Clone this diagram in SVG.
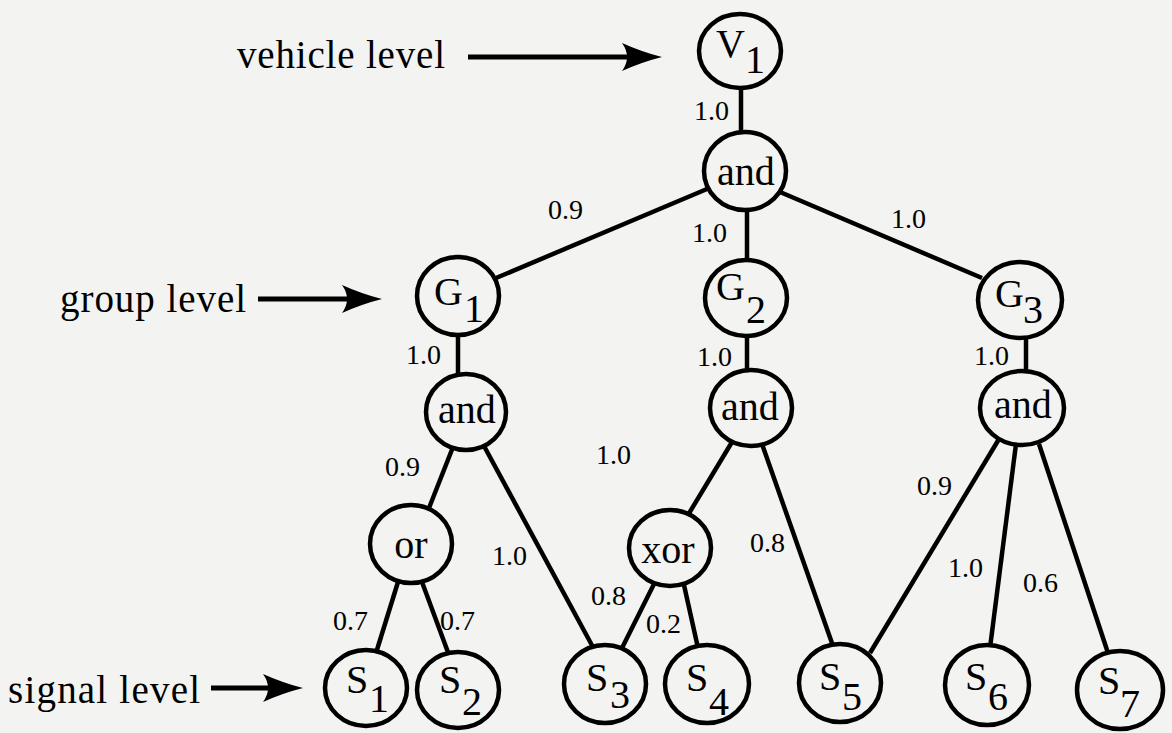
<svg xmlns="http://www.w3.org/2000/svg" width="1172" height="733" viewBox="0 0 1172 733">
<style>
.bg{fill:#f3f3f1}
.nd{fill:#f3f3f1;stroke:#000;stroke-width:4.5}
.ln{stroke:#000;stroke-width:4.5;fill:none}
.t{font-family:"Liberation Serif","Times New Roman",serif;font-size:40px;fill:#000}
.tm{font-family:"Liberation Serif","Times New Roman",serif;font-size:40px;fill:#000;text-anchor:middle}
.w{font-family:"Liberation Serif","Times New Roman",serif;font-size:28px;fill:#000}
.lv{font-family:"Liberation Serif","Times New Roman",serif;font-size:39px;fill:#000}
.ar{stroke:#000;stroke-width:5;fill:none}
</style>
<defs>
<marker id="ah" viewBox="0 0 40 28" refX="20" refY="14" markerWidth="40" markerHeight="28" markerUnits="userSpaceOnUse" orient="auto">
<path d="M0,0 Q20,9 40,14 Q20,19 0,28 Q10,14 0,0 z" fill="#000"/>
</marker>
</defs>
<rect class="bg" x="0" y="0" width="1172" height="733"/>

<g id="levels">
<text class="lv" x="237" y="68" textLength="208">vehicle level</text>
<line class="ar" x1="468" y1="57" x2="642" y2="57" marker-end="url(#ah)"/>
<text class="lv" x="60" y="312" textLength="186">group level</text>
<line class="ar" x1="258" y1="299" x2="362" y2="299" marker-end="url(#ah)"/>
<text class="lv" x="8" y="703" textLength="192">signal level</text>
<line class="ar" x1="211" y1="688" x2="283" y2="688" marker-end="url(#ah)"/>
</g>

<g id="connectors">
<line class="ln" x1="741" y1="86" x2="741" y2="134"/>
<line class="ln" x1="707" y1="189" x2="496" y2="278"/>
<line class="ln" x1="747" y1="208" x2="747" y2="262"/>
<line class="ln" x1="780" y1="192" x2="982" y2="278"/>
<line class="ln" x1="458" y1="333" x2="458" y2="376"/>
<line class="ln" x1="747" y1="334" x2="747" y2="371"/>
<line class="ln" x1="1026" y1="336" x2="1026" y2="372"/>
<line class="ln" x1="453" y1="447" x2="429" y2="508"/>
<line class="ln" x1="484" y1="446" x2="594" y2="649"/>
<line class="ln" x1="732" y1="442" x2="688" y2="515"/>
<line class="ln" x1="762" y1="444" x2="833" y2="646"/>
<line class="ln" x1="999" y1="439" x2="870" y2="653"/>
<line class="ln" x1="1016" y1="444" x2="990" y2="648"/>
<line class="ln" x1="1039" y1="444" x2="1108" y2="653"/>
<line class="ln" x1="398" y1="582" x2="376" y2="653"/>
<line class="ln" x1="422" y1="582" x2="449" y2="655"/>
<line class="ln" x1="654" y1="584" x2="621" y2="650"/>
<line class="ln" x1="684" y1="585" x2="698" y2="648"/>
</g>

<g id="weights">
<text class="w" x="694" y="120">1.0</text>
<text class="w" x="548" y="219">0.9</text>
<text class="w" x="692" y="242">1.0</text>
<text class="w" x="891" y="228">1.0</text>
<text class="w" x="406" y="364">1.0</text>
<text class="w" x="697" y="366">1.0</text>
<text class="w" x="974" y="365">1.0</text>
<text class="w" x="385" y="476">0.9</text>
<text class="w" x="596" y="464">1.0</text>
<text class="w" x="492" y="565">1.0</text>
<text class="w" x="333" y="630">0.7</text>
<text class="w" x="440" y="630">0.7</text>
<text class="w" x="591" y="605">0.8</text>
<text class="w" x="646" y="633">0.2</text>
<text class="w" x="750" y="552">0.8</text>
<text class="w" x="917" y="495">0.9</text>
<text class="w" x="948" y="577">1.0</text>
<text class="w" x="1023" y="592">0.6</text>
</g>

<g id="V1"><ellipse class="nd" cx="740" cy="51" rx="41" ry="37"/><text class="t" x="716" y="57">V</text><text class="t" x="745" y="73">1</text></g>
<g id="and0"><ellipse class="nd" cx="745" cy="171" rx="41" ry="39"/><text class="tm" x="746" y="185">and</text></g>
<g id="G1"><ellipse class="nd" cx="458" cy="296" rx="41" ry="39"/><text class="t" x="434" y="305">G</text><text class="t" x="464" y="322">1</text></g>
<g id="G2"><ellipse class="nd" cx="746" cy="298" rx="41" ry="38"/><text class="t" x="716" y="300">G</text><text class="t" x="746" y="323">2</text></g>
<g id="G3"><ellipse class="nd" cx="1020" cy="300" rx="42" ry="38"/><text class="t" x="995" y="307">G</text><text class="t" x="1023" y="323">3</text></g>
<g id="and1"><ellipse class="nd" cx="466" cy="412" rx="40" ry="38"/><text class="tm" x="467" y="423">and</text></g>
<g id="and2"><ellipse class="nd" cx="751" cy="408" rx="41" ry="38"/><text class="tm" x="750" y="420">and</text></g>
<g id="and3"><ellipse class="nd" cx="1022" cy="408" rx="42" ry="37"/><text class="tm" x="1023" y="418">and</text></g>
<g id="or"><ellipse class="nd" cx="411" cy="544" rx="41" ry="39"/><text class="tm" x="411" y="558">or</text></g>
<g id="xor"><ellipse class="nd" cx="670" cy="548" rx="41" ry="38"/><text class="tm" x="668" y="563">xor</text></g>
<g id="S1"><ellipse class="nd" cx="366" cy="688" rx="41" ry="38"/><text class="t" x="346" y="693">S</text><text class="t" x="369" y="712">1</text></g>
<g id="S2"><ellipse class="nd" cx="458" cy="690" rx="41" ry="38"/><text class="t" x="439" y="693">S</text><text class="t" x="462" y="715">2</text></g>
<g id="S3"><ellipse class="nd" cx="605" cy="684" rx="41" ry="39"/><text class="t" x="586" y="691">S</text><text class="t" x="610" y="708">3</text></g>
<g id="S4"><ellipse class="nd" cx="707" cy="684" rx="42" ry="39"/><text class="t" x="686" y="691">S</text><text class="t" x="709" y="715">4</text></g>
<g id="S5"><ellipse class="nd" cx="840" cy="683" rx="41" ry="39"/><text class="t" x="819" y="690">S</text><text class="t" x="842" y="710">5</text></g>
<g id="S6"><ellipse class="nd" cx="987" cy="685" rx="42" ry="40"/><text class="t" x="965" y="690">S</text><text class="t" x="988" y="710">6</text></g>
<g id="S7"><ellipse class="nd" cx="1120" cy="690" rx="43" ry="39"/><text class="t" x="1098" y="694">S</text><text class="t" x="1120" y="717">7</text></g>
</svg>
